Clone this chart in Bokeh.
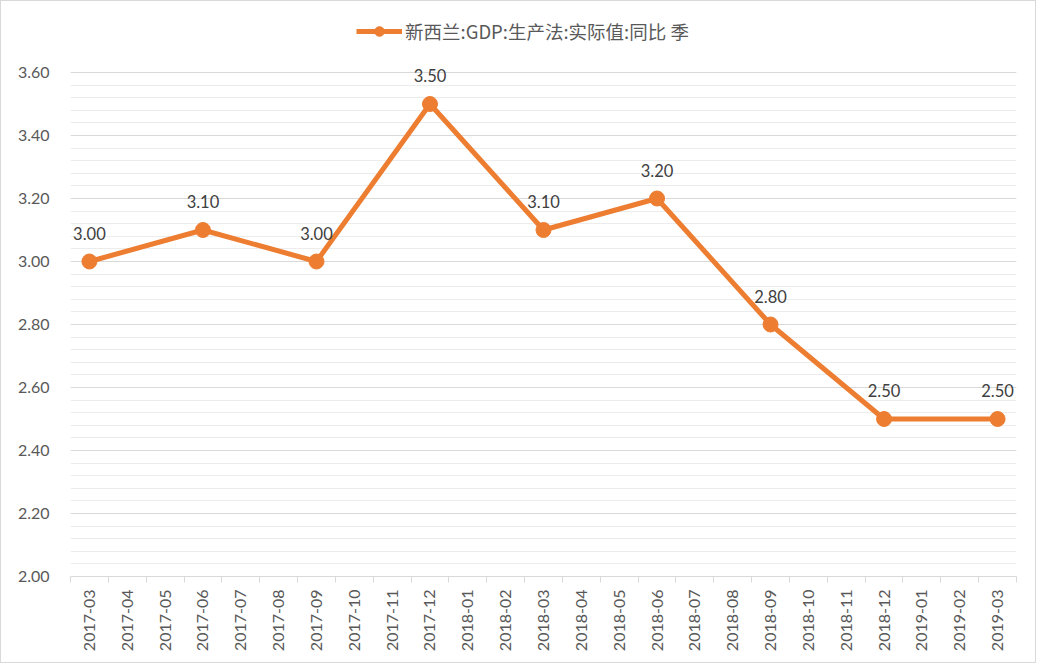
from bokeh.plotting import figure
from bokeh.models import (FixedTicker, NumeralTickFormatter, Legend, LegendItem,
                          ColumnDataSource, LabelSet, Range1d)
from bokeh.core.properties import value
from bokeh.embed import file_html
from bokeh.resources import INLINE
import math

months = ["2017-03", "2017-04", "2017-05", "2017-06", "2017-07", "2017-08", "2017-09",
          "2017-10", "2017-11", "2017-12", "2018-01", "2018-02", "2018-03", "2018-04",
          "2018-05", "2018-06", "2018-07", "2018-08", "2018-09", "2018-10", "2018-11",
          "2018-12", "2019-01", "2019-02", "2019-03"]
quarters = ["2017-03", "2017-06", "2017-09", "2017-12", "2018-03", "2018-06",
            "2018-09", "2018-12", "2019-03"]
values = [3.00, 3.10, 3.00, 3.50, 3.10, 3.20, 2.80, 2.50, 2.50]
series_name = "新西兰:GDP:生产法:实际值:同比 季"
y_ticks = [2.00, 2.20, 2.40, 2.60, 2.80, 3.00, 3.20, 3.40, 3.60]

LINE = "#ED7D31"
TXT = "#595959"
FONT = "Lato"

# layout: plotting area spans 504 px for the value axis; the 71 px above it hold the legend
AREA_H = 504
TOP_PAD = 71
y_lo, y_hi = y_ticks[0], y_ticks[-1]
y_top = y_hi + (y_hi - y_lo) * TOP_PAD / AREA_H

xs = [months.index(q) for q in quarters]
src = ColumnDataSource(dict(x=xs, y=values, lbl=["%.2f" % v for v in values]))

p = figure(width=1036, height=663, output_backend="svg", toolbar_location=None,
           x_range=Range1d(-0.5, len(months) - 0.5), y_range=Range1d(y_lo, y_top),
           min_border_left=69, min_border_right=21, min_border_top=0, min_border_bottom=88)
p.styles = {"border": "1px solid #d9d9d9"}
p.outline_line_color = None
p.background_fill_color = "white"
p.border_fill_color = "white"

minor_y = [round(y_lo + 0.04 * i, 2) for i in range(int(round((y_hi - y_lo) / 0.04)) + 1)]
p.yaxis.ticker = FixedTicker(ticks=y_ticks, minor_ticks=minor_y)
p.yaxis.formatter = NumeralTickFormatter(format="0.00")
p.yaxis.axis_line_color = None
p.yaxis.major_tick_line_color = None
p.yaxis.minor_tick_line_color = None
p.yaxis.major_tick_out = 0
p.yaxis.minor_tick_out = 0
p.yaxis.major_label_standoff = 21
p.yaxis.major_label_text_font = FONT
p.yaxis.major_label_text_font_size = "16px"
p.yaxis.major_label_text_color = TXT

centers = list(range(len(months)))
edges = [i - 0.5 for i in range(len(months) + 1)]
p.xaxis.ticker = FixedTicker(ticks=centers, minor_ticks=edges)
p.xaxis.major_label_overrides = {i: m for i, m in enumerate(months)}
p.xaxis.major_label_orientation = math.pi / 2
p.xaxis.axis_line_color = "#d9d9d9"
p.xaxis.major_tick_line_color = None
p.xaxis.major_tick_out = 0
p.xaxis.major_tick_in = 0
p.xaxis.minor_tick_line_color = "#d9d9d9"
p.xaxis.minor_tick_out = 6
p.xaxis.minor_tick_in = 0
p.xaxis.major_label_standoff = 7
p.xaxis.major_label_text_font = FONT
p.xaxis.major_label_text_font_size = "16px"
p.xaxis.major_label_text_color = TXT

p.xgrid.grid_line_color = None
p.ygrid.grid_line_color = "#d9d9d9"
p.ygrid.minor_grid_line_color = "#ececec"

ln = p.line("x", "y", source=src, line_color=LINE, line_width=5)
cr = p.scatter("x", "y", source=src, size=15, fill_color=LINE, line_color=LINE)

labels = LabelSet(x="x", y="y", text="lbl", source=src, y_offset=22,
                  text_align="center", text_baseline="bottom",
                  text_font=value(FONT), text_font_size=value("16.5px"), text_color="#404040")
p.add_layout(labels)

legend = Legend(items=[LegendItem(label=series_name, renderers=[ln, cr])],
                location=(286, 532), orientation="horizontal",
                glyph_width=46, glyph_height=24, label_standoff=3,
                padding=0, margin=0, border_line_color=None, background_fill_alpha=0,
                label_text_font="Noto Sans CJK SC", label_text_font_size="18.5px",
                label_text_color=TXT)
p.add_layout(legend, "center")

open("out.html", "w").write(file_html(p, INLINE))
